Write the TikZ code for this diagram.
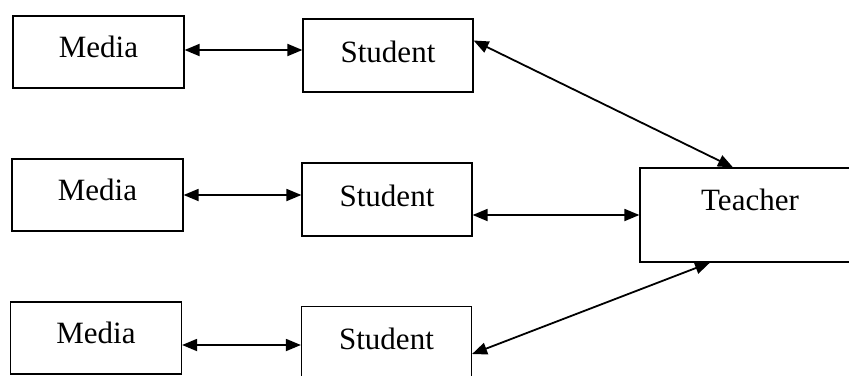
\documentclass[tikz,border=0pt]{standalone}
\usepackage{fontspec}
\setmainfont{Liberation Serif}
\usetikzlibrary{arrows.meta}
\begin{document}
\begin{tikzpicture}[x=1pt,y=-1pt,
  box/.style={draw,line width=1.2pt,inner sep=0pt,font=\fontsize{31}{36}\selectfont},
  media/.style={box,minimum width=171pt,text height=41pt,text depth=31pt},
  student/.style={box,minimum width=170pt,text height=43pt,text depth=30pt},
  link/.style={line width=1.8pt,{Triangle[length=15pt,width=12pt]}-{Triangle[length=15pt,width=12pt]}}]
\useasboundingbox (0,0) rectangle (849,375);
\clip (0,0) rectangle (849,375);
\node[media] (M1) at (98.5,52) {Media};
\node[student] (S1) at (388,55.5) {Student};
\node[media] (M2) at (97.5,195) {Media};
\node[student] (S2) at (387,199.5) {Student};
\node[media] (M3) at (96,338) {Media};
\node[student] (S3) at (386.5,343) {Student};
\node[box,minimum width=220pt,text height=42pt,text depth=52pt] (T) at (750,215) {Teacher};
\draw[link] ([yshift=2pt]M1.east) -- ([yshift=2pt]S1.west |- M1.east);
\draw[link] (M2.east) -- (S2.west |- M2.east);
\draw[link] ([yshift=-7pt]M3.east) -- ([yshift=-7pt]S3.west |- M3.east);
\draw[link] ([yshift=15pt]S1.east) -- ([xshift=-17pt]T.north);
\draw[link] (S2.east |- T.west) -- (T.west);
\draw[link] ([yshift=-11pt]S3.east) -- ([xshift=-40pt]T.south);
\end{tikzpicture}
\end{document}
